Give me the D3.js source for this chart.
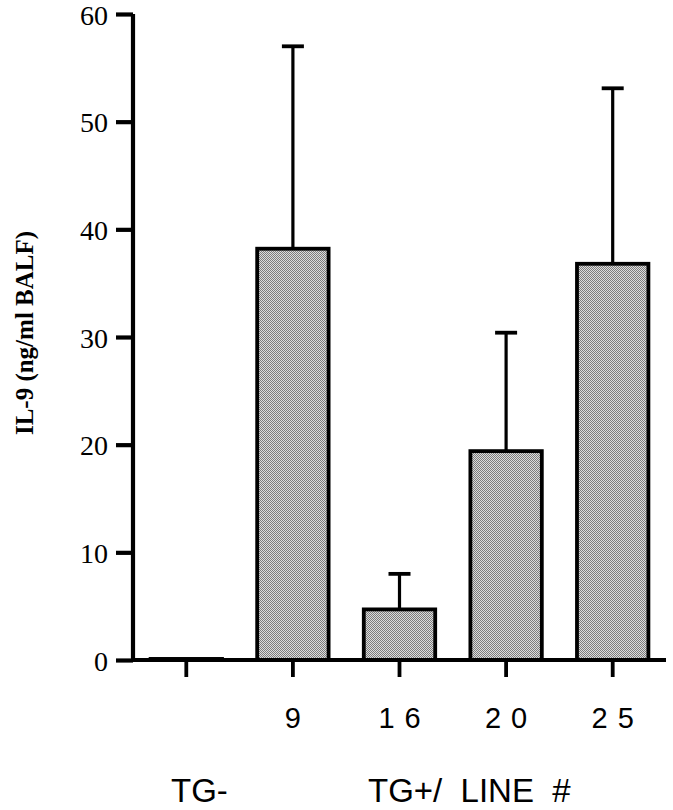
<!DOCTYPE html>
<html>
<head>
<meta charset="utf-8">
<script src="https://cdn.jsdelivr.net/npm/d3@7"></script>
<style>
  html, body { margin: 0; padding: 0; background: #fff; }
  svg { display: block; }
</style>
</head>
<body>
<div id="chart"></div>
<script>
// ---- data ----
const categories = ["TG-", "9", "16", "20", "25"];
const tickLabels = ["", "9", "16", "20", "25"];
const means = [0.1, 38.2, 4.7, 19.4, 36.8];
const upperErrors = [0, 18.8, 3.3, 11.0, 16.3];
const yTicks = [0, 10, 20, 30, 40, 50, 60];
const yTitle = "IL-9 (ng/ml BALF)";
const groupLabels = ["TG-", "TG+/  LINE  #"];

// ---- layout ----
const W = 673, H = 810;
const mLeft = 133, mRight = 666, mTop = 14, mBottom = 660;

const svg = d3.select("#chart").append("svg")
  .attr("width", W).attr("height", H);

const defs = svg.append("defs");
const pat = defs.append("pattern")
  .attr("id", "dots").attr("patternUnits", "userSpaceOnUse")
  .attr("width", 2).attr("height", 2);
pat.append("rect").attr("width", 2).attr("height", 2).attr("fill", "#dcdcdc");
pat.append("rect").attr("width", 1).attr("height", 1).attr("fill", "#7c7c7c");
pat.append("rect").attr("x", 1).attr("y", 1).attr("width", 1).attr("height", 1).attr("fill", "#7c7c7c");

const x = d3.scaleBand().domain(categories).range([mLeft, mRight])
  .paddingInner(0.33).paddingOuter(0.165);
const y = d3.scaleLinear().domain([0, 60]).range([mBottom, mTop]);

const data = categories.map((c, i) => ({ c, m: means[i], e: upperErrors[i] }));

// error bars
const eb = svg.append("g").selectAll("g").data(data.filter(d => d.e > 0)).join("g");
eb.append("line")
  .attr("x1", d => x(d.c) + x.bandwidth() / 2)
  .attr("x2", d => x(d.c) + x.bandwidth() / 2)
  .attr("y1", d => y(d.m)).attr("y2", d => y(d.m + d.e))
  .attr("stroke", "#000").attr("stroke-width", 3.2);
eb.append("line")
  .attr("x1", d => x(d.c) + x.bandwidth() / 2 - 11)
  .attr("x2", d => x(d.c) + x.bandwidth() / 2 + 11)
  .attr("y1", d => y(d.m + d.e)).attr("y2", d => y(d.m + d.e))
  .attr("stroke", "#000").attr("stroke-width", 3.8);

// bars
svg.append("g").selectAll("rect").data(data).join("rect")
  .attr("x", d => x(d.c))
  .attr("width", x.bandwidth())
  .attr("y", d => y(d.m))
  .attr("height", d => y(0) - y(d.m))
  .attr("fill", "url(#dots)")
  .attr("stroke", "#000").attr("stroke-width", 3.8);

// y axis
const yAxis = d3.axisLeft(y).tickValues(yTicks).tickSize(17).tickPadding(8)
  .tickFormat(d3.format("d"));
const gy = svg.append("g").attr("transform", `translate(${mLeft},0)`).call(yAxis);
gy.select(".domain").attr("d", `M0,${mTop}V${mBottom}`).attr("stroke-width", 4.2);
gy.selectAll(".tick line").attr("stroke-width", 4.2);
gy.selectAll(".tick text")
  .attr("font-family", "'Liberation Serif', 'Times New Roman', serif")
  .attr("font-size", 28).attr("fill", "#000").attr("dy", "0.36em");

// x axis
const xAxis = d3.axisBottom(x).tickSize(17).tickPadding(0)
  .tickFormat((d, i) => tickLabels[i]);
const gx = svg.append("g").attr("transform", `translate(0,${mBottom})`).call(xAxis);
gx.select(".domain").attr("d", `M${mLeft},0H${mRight}`).attr("stroke-width", 4.2);
gx.selectAll(".tick line").attr("stroke-width", 3.8);
gx.selectAll(".tick text")
  .attr("font-family", "'Liberation Sans', Arial, sans-serif")
  .attr("font-size", 29).attr("fill", "#000")
  .attr("y", 68).attr("dy", 0)
  .attr("letter-spacing", "10px")
  .attr("dx", 5);

// y title
svg.append("text")
  .attr("transform", `translate(33,333) rotate(-90)`)
  .attr("text-anchor", "middle")
  .attr("font-family", "'Liberation Serif', 'Times New Roman', serif")
  .attr("font-size", 25).attr("font-weight", "bold")
  .text(yTitle);

// group labels
svg.append("text")
  .attr("x", 171).attr("y", 802)
  .attr("font-family", "'Liberation Sans', Arial, sans-serif")
  .attr("font-size", 33)
  .text(groupLabels[0]);
svg.append("text")
  .attr("x", 368).attr("y", 802)
  .attr("font-family", "'Liberation Sans', Arial, sans-serif")
  .attr("font-size", 33)
  .attr("xml:space", "preserve")
  .style("white-space", "pre")
  .text(groupLabels[1]);
</script>
</body>
</html>
